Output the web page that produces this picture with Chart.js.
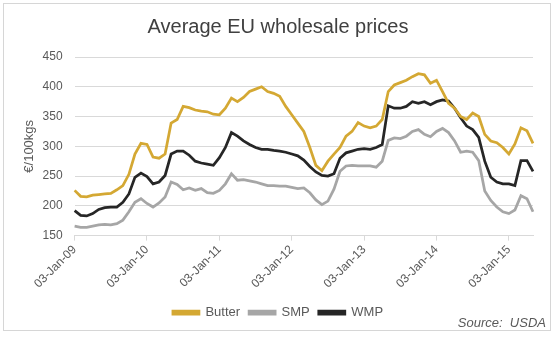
<!DOCTYPE html>
<html>
<head>
<meta charset="utf-8">
<script src="https://cdn.jsdelivr.net/npm/chart.js@4"></script>
<style>
  body { margin: 0; background: #fff; }
  #wrap { position: relative; width: 556px; height: 337px; }
  #frame { position: absolute; left: 3px; top: 3px; width: 546px; height: 326px; border: 1px solid #d6d6d6; pointer-events: none; }
  #source { position: absolute; right: 10px; top: 315px; font: italic 13px "Liberation Sans", Arial, sans-serif; color: #595959; }
</style>
</head>
<body>
<div id="wrap">
  <canvas id="priceChart" width="556" height="337"></canvas>
  <div id="frame"></div>
  <span id="source">Source:&nbsp; USDA</span>
</div>
<script>
// monthly readings, Jan 2009 .. May 2015
const months = [
  'Jan-09','Feb-09','Mar-09','Apr-09','May-09','Jun-09','Jul-09','Aug-09','Sep-09','Oct-09','Nov-09','Dec-09',
  'Jan-10','Feb-10','Mar-10','Apr-10','May-10','Jun-10','Jul-10','Aug-10','Sep-10','Oct-10','Nov-10','Dec-10',
  'Jan-11','Feb-11','Mar-11','Apr-11','May-11','Jun-11','Jul-11','Aug-11','Sep-11','Oct-11','Nov-11','Dec-11',
  'Jan-12','Feb-12','Mar-12','Apr-12','May-12','Jun-12','Jul-12','Aug-12','Sep-12','Oct-12','Nov-12','Dec-12',
  'Jan-13','Feb-13','Mar-13','Apr-13','May-13','Jun-13','Jul-13','Aug-13','Sep-13','Oct-13','Nov-13','Dec-13',
  'Jan-14','Feb-14','Mar-14','Apr-14','May-14','Jun-14','Jul-14','Aug-14','Sep-14','Oct-14','Nov-14','Dec-14',
  'Jan-15','Feb-15','Mar-15','Apr-15','May-15'
];

const butter = [
  226, 216, 215, 218, 219, 220, 221, 227, 234, 253, 287, 305,
  303, 282, 280, 287, 339, 345, 367, 365, 361, 359, 358, 354,
  353, 364, 381, 375, 382, 392, 396, 400, 392, 389, 384, 367,
  353, 339, 325, 298, 268, 259, 275, 287, 298, 317, 325, 340,
  334, 331, 334, 345, 392, 403, 407, 411, 417, 422, 420, 406,
  411, 392, 372, 364, 350, 345, 356, 350, 320, 309, 306, 298,
  287, 304, 331, 326, 305
];

const smp = [
  166, 164, 164, 166, 168, 169, 168, 170, 176, 190, 206, 212,
  204, 198, 205, 215, 240, 236, 227, 230, 226, 229, 222, 221,
  226, 237, 254, 243, 244, 242, 240, 237, 234, 234, 233, 233,
  231, 229, 230, 222, 210, 202, 208, 228, 258, 267, 268, 267,
  267, 267, 265, 275, 310, 314, 313, 317, 325, 328, 320, 316,
  325, 330, 323, 309, 290, 292, 290, 276, 225, 209, 198, 190,
  187, 193, 217, 212, 190
];

const wmp = [
  192, 184, 183, 187, 194, 197, 198, 198, 206, 220, 248, 255,
  249, 237, 240, 251, 287, 292, 292, 285, 275, 272, 270, 268,
  281, 298, 323, 317, 309, 303, 298, 295, 295, 293, 292, 290,
  287, 284, 277, 266, 257, 251, 250, 254, 280, 289, 292, 295,
  296, 295, 298, 303, 368, 364, 364, 367, 375, 372, 375, 370,
  375, 378, 376, 364, 348, 334, 328, 315, 275, 248, 240, 237,
  237, 234, 276, 276, 258
];

const tickLabels = ['03-Jan-09', '03-Jan-10', '03-Jan-11', '03-Jan-12', '03-Jan-13', '03-Jan-14', '03-Jan-15'];

const FONT = '"Liberation Sans", Arial, sans-serif';
const TEXT = '#595959';
const GRID = '#d9d9d9';

document.addEventListener('DOMContentLoaded', function () {
    const ctx = document.getElementById('priceChart').getContext('2d');

    const series = [
        { label: 'Butter', data: butter, color: '#d4a833' },
        { label: 'SMP', data: smp, color: '#a6a6a6' },
        { label: 'WMP', data: wmp, color: '#262626' }
    ];

    new Chart(ctx, {
        type: 'line',
        data: {
            labels: months,
            datasets: series.map(s => ({
                label: s.label,
                data: s.data,
                borderColor: s.color,
                backgroundColor: s.color,
                borderWidth: 2.75,
                pointRadius: 0,
                tension: 0,
                fill: false
            }))
        },
        options: {
            responsive: false,
            animation: false,
            layout: { padding: { left: 11, right: 11, top: 6, bottom: 8 } },
            scales: {
                x: {
                    offset: false,
                    afterBuildTicks: axis => { axis.ticks = axis.ticks.filter(t => t.value % 12 === 0); },
                    afterFit: axis => { axis.height += 4; },
                    grid: { drawOnChartArea: false, drawTicks: true, tickLength: 5, color: GRID },
                    border: { color: GRID },
                    ticks: {
                        autoSkip: false,
                        minRotation: 45,
                        maxRotation: 45,
                        padding: 2,
                        color: TEXT,
                        font: { family: FONT, size: 12 },
                        callback: function (value) { return tickLabels[value / 12]; }
                    }
                },
                y: {
                    min: 150,
                    max: 450,
                    grid: { color: GRID, drawTicks: false },
                    border: { display: false },
                    ticks: { stepSize: 50, padding: 12, color: TEXT, font: { family: FONT, size: 12 } },
                    title: { display: true, text: '€/100kgs', color: TEXT, font: { family: FONT, size: 13 }, padding: { top: 11, bottom: -7 } }
                },
                // empty spacer on the right so title and legend centre on the page
                spacer: {
                    position: 'right',
                    display: true,
                    grid: { display: false },
                    border: { display: false },
                    ticks: { display: false },
                    afterFit: axis => { axis.width = 12; }
                }
            },
            plugins: {
                title: {
                    display: true,
                    text: 'Average EU wholesale prices',
                    color: '#404040',
                    font: { family: FONT, size: 20, weight: 'normal' },
                    padding: { top: 9, bottom: 18 }
                },
                legend: {
                    display: true,
                    position: 'bottom',
                    labels: {
                        boxWidth: 26,
                        boxHeight: 3,
                        padding: 9,
                        color: TEXT,
                        font: { family: FONT, size: 13 }
                    }
                },
                tooltip: { enabled: false }
            }
        }
    });
});
</script>
</body>
</html>
